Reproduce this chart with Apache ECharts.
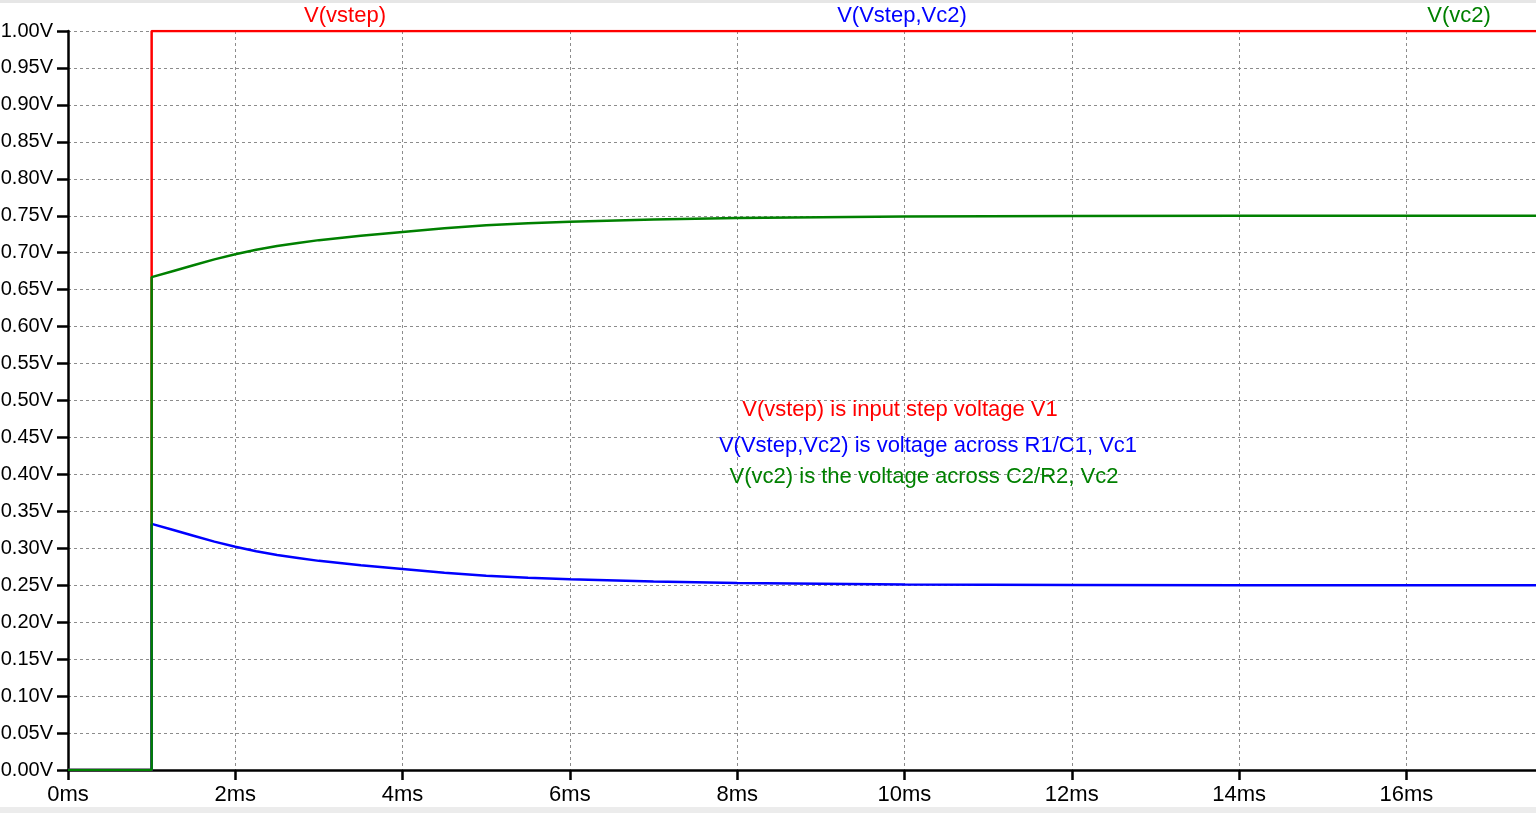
<!DOCTYPE html>
<html>
<head>
<meta charset="utf-8">
<script src="https://cdn.jsdelivr.net/npm/echarts@6/dist/echarts.min.js"></script>
<style>html,body{margin:0;padding:0;background:#fff;}#c{width:1536px;height:813px;}</style>
</head>
<body>
<div id="c"></div>
<script>
// time in ms
const times    = [0, 1, 1,     1.25,  1.5,   1.75,  2,     2.25,  2.5,   2.75,  3,     3.5,   4,     4.5,   5,     5.5,   6,     7,     8,     9,     10,    12,     14,     17.55];
const vStep    = [0, 0, 1,     1,     1,     1,     1,     1,     1,     1,     1,     1,     1,     1,     1,     1,     1,     1,     1,     1,     1,     1,      1,      1];
const vStepVc2 = [0, 0, 0.333, 0.325, 0.317, 0.309, 0.302, 0.296, 0.291, 0.287, 0.283, 0.277, 0.272, 0.267, 0.263, 0.260, 0.258, 0.255, 0.253, 0.252, 0.251, 0.2504, 0.2501, 0.25];
const vVc2     = [0, 0, 0.667, 0.675, 0.683, 0.691, 0.698, 0.704, 0.709, 0.713, 0.717, 0.723, 0.728, 0.733, 0.737, 0.740, 0.742, 0.745, 0.747, 0.748, 0.749, 0.7496, 0.7499, 0.75];
const seriesNames = ['V(vstep)', 'V(Vstep,Vc2)', 'V(vc2)'];
const notes = ['V(vstep) is input step voltage V1', 'V(Vstep,Vc2) is voltage across R1/C1, Vc1', 'V(vc2) is the voltage across C2/R2, Vc2'];
const colors = ['#ff0000', '#0000ff', '#008000'];

const zip = (ys) => times.map((t, i) => [t, ys[i]]);
const font = '"Liberation Sans", Arial, sans-serif';

const chart = echarts.init(document.getElementById('c'));
chart.setOption({
  animation: false,
  backgroundColor: '#ffffff',
  grid: { left: 68, right: 0, top: 31, bottom: 43, containLabel: false, outerBoundsMode: 'none' },
  xAxis: {
    type: 'value', min: 0, max: 17.55, interval: 2,
    axisLine: { lineStyle: { color: '#000', width: 2.5 } },
    axisTick: { length: 10, lineStyle: { color: '#000', width: 2.5 } },
    axisLabel: { color: '#000', fontSize: 22, fontFamily: font, margin: 14, showMaxLabel: false,
      formatter: v => v + 'ms' },
    splitLine: { show: true, lineStyle: { color: '#8c8c8c', type: [3, 3], width: 1 } }
  },
  yAxis: {
    type: 'value', min: 0, max: 1, interval: 0.05,
    axisLine: { show: true, lineStyle: { color: '#000', width: 2.5 } },
    axisTick: { show: true, length: 11, lineStyle: { color: '#000', width: 2.5 } },
    axisLabel: { color: '#000', fontSize: 20, fontFamily: font, margin: 15,
      formatter: v => v.toFixed(2) + 'V' },
    splitLine: { show: true, lineStyle: { color: '#8c8c8c', type: [3, 3], width: 1 } }
  },
  series: [
    { name: seriesNames[0], type: 'line', data: zip(vStep), showSymbol: false, z: 2,
      lineStyle: { color: colors[0], width: 2.5 }, itemStyle: { color: colors[0] } },
    { name: seriesNames[1], type: 'line', data: zip(vStepVc2), showSymbol: false, z: 3,
      lineStyle: { color: colors[1], width: 2.5 }, itemStyle: { color: colors[1] } },
    { name: seriesNames[2], type: 'line', data: zip(vVc2), showSymbol: false, z: 4,
      lineStyle: { color: colors[2], width: 2.5 }, itemStyle: { color: colors[2] } }
  ],
  graphic: [
    { type: 'rect', shape: { x: 0, y: 0, width: 1536, height: 3 }, style: { fill: '#e6e6e6' }, silent: true },
    { type: 'rect', shape: { x: 0, y: 807, width: 1536, height: 6 }, style: { fill: '#ececec' }, silent: true },
    { type: 'text', x: 345, y: 16, style: { text: seriesNames[0], fill: colors[0], font: '22px ' + font, textAlign: 'center', textVerticalAlign: 'middle' } },
    { type: 'text', x: 902, y: 16, style: { text: seriesNames[1], fill: colors[1], font: '22px ' + font, textAlign: 'center', textVerticalAlign: 'middle' } },
    { type: 'text', x: 1459, y: 16, style: { text: seriesNames[2], fill: colors[2], font: '22px ' + font, textAlign: 'center', textVerticalAlign: 'middle' } },
    { type: 'text', x: 900, y: 410, z: 10, style: { text: notes[0], fill: colors[0], font: '22px ' + font, textAlign: 'center', textVerticalAlign: 'middle' } },
    { type: 'text', x: 928, y: 446, z: 10, style: { text: notes[1], fill: colors[1], font: '22px ' + font, textAlign: 'center', textVerticalAlign: 'middle' } },
    { type: 'text', x: 924, y: 477, z: 10, style: { text: notes[2], fill: colors[2], font: '22px ' + font, textAlign: 'center', textVerticalAlign: 'middle' } }
  ]
});
</script>
</body>
</html>
